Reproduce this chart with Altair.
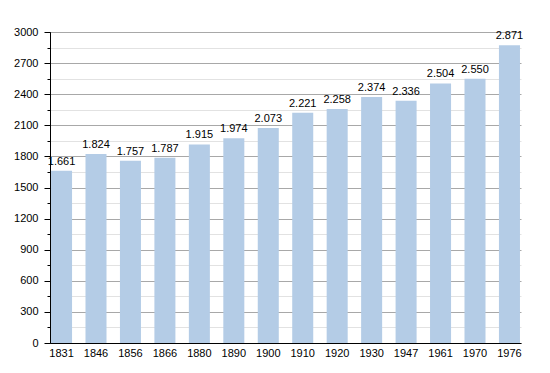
import altair as alt
import pandas as pd

years = ["1831", "1846", "1856", "1866", "1880", "1890", "1900", "1910",
         "1920", "1930", "1947", "1961", "1970", "1976"]
population = [1661, 1824, 1757, 1787, 1915, 1974, 2073, 2221,
              2258, 2374, 2336, 2504, 2550, 2871]
labels = ["1.661", "1.824", "1.757", "1.787", "1.915", "1.974", "2.073", "2.221",
          "2.258", "2.374", "2.336", "2.504", "2.550", "2.871"]
major_ticks = list(range(0, 3001, 300))
minor_ticks = list(range(150, 3000, 300))

df = pd.DataFrame({"year": years, "pop": population, "label": labels})
minor_df = pd.DataFrame({"v": minor_ticks})

font = "Liberation Sans"
yscale = alt.Scale(domain=[0, 3000], nice=False)

major_axis = alt.Axis(orient="left", values=major_ticks, format="d",
                      labelOverlap=False, labelFlush=False, labelBound=False,
                      tickSize=6, tickColor="black", domainColor="black",
                      grid=True, gridColor="#a8a8a8",
                      labelFont=font, labelFontSize=11, labelColor="black",
                      labelPadding=6)
x_axis = alt.Axis(labelAngle=0, ticks=False, domainColor="black",
                  labelFont=font, labelFontSize=11, labelColor="black",
                  labelPadding=4, grid=False, labelOverlap=False)
xscale = alt.Scale(paddingInner=0.39, paddingOuter=0.03)

minor = alt.Chart(minor_df).mark_rule(opacity=0).encode(
    y=alt.Y("v:Q", scale=yscale, title=None,
            axis=alt.Axis(orient="left", values=minor_ticks, labels=False,
                          tickSize=3, tickColor="black", domainColor="black",
                          grid=True, gridColor="#e2e2e2"))
)

bars = alt.Chart(df).mark_bar(color="#b4cce6").encode(
    x=alt.X("year:N", sort=years, title=None, scale=xscale, axis=x_axis),
    y=alt.Y("pop:Q", scale=yscale, title=None, axis=major_axis),
)

text = alt.Chart(df).mark_text(dy=-9, font=font, fontSize=11, color="black").encode(
    x=alt.X("year:N", sort=years, title=None, scale=xscale, axis=x_axis),
    y=alt.Y("pop:Q", scale=yscale, title=None, axis=major_axis),
    text="label:N",
)

chart = alt.layer(minor, alt.layer(bars, text)).resolve_axis(y="independent").properties(
    width=471, height=311,
    autosize=alt.AutoSizeParams(type="none"),
    padding={"left": 42, "top": 24, "right": 21, "bottom": 22},
).configure_view(stroke=None).configure_axis(labelOverlap=False)

chart.save("out.html", embed_options={"renderer": "svg", "actions": False})
